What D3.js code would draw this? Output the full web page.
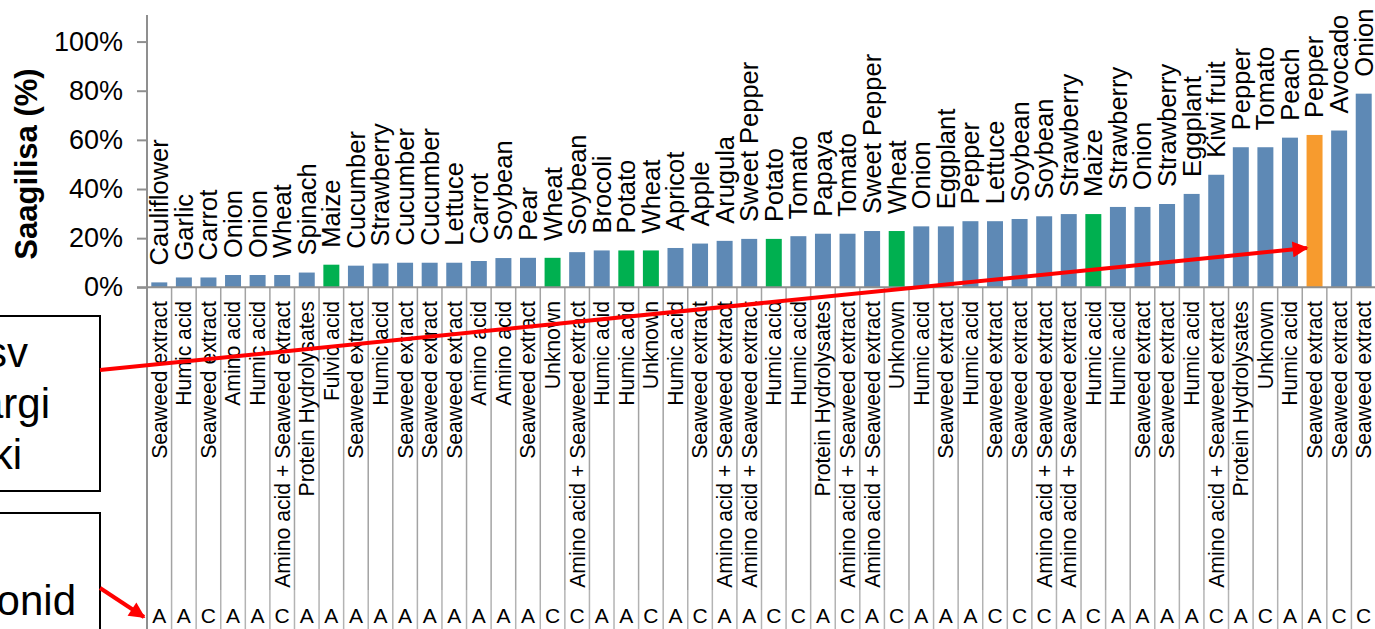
<!DOCTYPE html>
<html>
<head>
<meta charset="utf-8">
<script src="https://cdnjs.cloudflare.com/ajax/libs/d3/7.8.5/d3.min.js"></script>
<style>
  body { margin: 0; background: #fff; }
  svg { display: block; font-family: "Liberation Sans", Arial, sans-serif; }
</style>
</head>
<body>
<svg id="chart" width="1375" height="629"></svg>
<script>
// crop names shown above the bars
var crops = ["Cauliflower", "Garlic", "Carrot", "Onion", "Onion", "Wheat", "Spinach", "Maize", "Cucumber", "Strawberry",
  "Cucumber", "Cucumber", "Lettuce", "Carrot", "Soybean", "Pear", "Wheat", "Soybean", "Brocoli", "Potato",
  "Wheat", "Apricot", "Apple", "Arugula", "Sweet Pepper", "Potato", "Tomato", "Papaya", "Tomato", "Sweet Pepper",
  "Wheat", "Onion", "Eggplant", "Pepper", "Lettuce", "Soybean", "Soybean", "Strawberry", "Maize", "Strawberry",
  "Onion", "Strawberry", "Eggplant", "Kiwi fruit", "Pepper", "Tomato", "Peach", "Pepper", "Avocado", "Onion"];

// biostimulant type (first x-axis level)
var treatments = ["Seaweed extract", "Humic acid", "Seaweed extract", "Amino acid", "Humic acid",
  "Amino acid + Seaweed extract", "Protein Hydrolysates", "Fulvic acid", "Seaweed extract", "Humic acid",
  "Seaweed extract", "Seaweed extract", "Seaweed extract", "Amino acid", "Amino acid",
  "Seaweed extract", "Unknown", "Amino acid + Seaweed extract", "Humic acid", "Humic acid",
  "Unknown", "Humic acid", "Seaweed extract", "Amino acid + Seaweed extract", "Amino acid + Seaweed extract",
  "Humic acid", "Humic acid", "Protein Hydrolysates", "Amino acid + Seaweed extract", "Amino acid + Seaweed extract",
  "Unknown", "Humic acid", "Seaweed extract", "Humic acid", "Seaweed extract",
  "Seaweed extract", "Amino acid + Seaweed extract", "Amino acid + Seaweed extract", "Humic acid", "Humic acid",
  "Seaweed extract", "Seaweed extract", "Humic acid", "Amino acid + Seaweed extract", "Protein Hydrolysates",
  "Unknown", "Humic acid", "Seaweed extract", "Seaweed extract", "Seaweed extract"];

// second x-axis level
var groups = ["A", "A", "C", "A", "A", "C", "A", "A", "A", "A", "A", "A", "A", "A", "A", "A", "C", "C", "A", "A",
  "C", "A", "C", "A", "A", "C", "C", "A", "C", "A", "C", "A", "A", "A", "C", "C", "C", "A", "C", "A",
  "A", "A", "A", "C", "A", "C", "A", "A", "C", "C"];

// yield increase, %
var values = [2, 4, 4, 5, 5, 5, 6, 9.2, 8.8, 9.7, 10, 10, 10, 10.7, 11.9, 12, 12, 14.3, 15, 15,
  15, 16, 17.8, 18.9, 19.7, 19.7, 20.8, 21.8, 21.8, 22.9, 22.9, 24.8, 24.8, 26.9, 26.9, 27.8, 28.9, 29.8, 29.8, 32.7,
  32.7, 33.9, 38, 45.8, 57, 57, 60.9, 62, 63.8, 78.8];

var yTicks = [0, 20, 40, 60, 80, 100];

// highlighted bars (index)
var greenBars = [7, 16, 19, 20, 25, 30, 38];
var orangeBars = [47];

// fragments of the callout boxes on the left
var box1Lines = ["sv", "argi", "ki"];
var box2Lines = ["onid"];

var svg = d3.select("#chart");
var gridColor = "#8f8f8f";

var x = d3.scaleBand()
  .domain(d3.range(values.length))
  .range([147, 1376])
  .paddingInner(0.35)
  .paddingOuter(0.175);

var y = d3.scaleLinear().domain([0, 110]).range([287.3, 17]);

function barColor(i) {
  if (orangeBars.indexOf(i) >= 0) return "#f79b2e";
  if (greenBars.indexOf(i) >= 0) return "#00b050";
  return "#5e89b5";
}

// category dividers below the axis (two levels, small break between)
var step = x.step();
var bounds = d3.range(values.length + 1).map(function(i) { return 147 + i * step; });
var dividers = svg.append("g");
dividers.selectAll("line.top")
  .data(bounds)
  .join("line")
  .attr("class", "top")
  .attr("x1", function(d) { return d; })
  .attr("x2", function(d) { return d; })
  .attr("y1", 287)
  .attr("y2", 590)
  .attr("stroke", "#a3a3a3")
  .attr("stroke-width", 1.5);
dividers.selectAll("line.bot")
  .data(bounds)
  .join("line")
  .attr("class", "bot")
  .attr("x1", function(d) { return d; })
  .attr("x2", function(d) { return d; })
  .attr("y1", 590)
  .attr("y2", 629)
  .attr("stroke", "#b4b4b4")
  .attr("stroke-width", 1.5);

// bars
svg.append("g").selectAll("rect")
  .data(values)
  .join("rect")
  .attr("x", function(d, i) { return x(i); })
  .attr("width", x.bandwidth())
  .attr("y", function(d) { return y(d); })
  .attr("height", function(d) { return y(0) - y(d); })
  .attr("fill", function(d, i) { return barColor(i); });

// y axis
var yAxis = d3.axisLeft(y)
  .tickValues(yTicks)
  .tickSize(10)
  .tickPadding(14)
  .tickFormat(function(d) { return d + "%"; });

var ya = svg.append("g").attr("transform", "translate(147,0)").call(yAxis);
ya.select(".domain").attr("stroke", gridColor).attr("stroke-width", 2).attr("d", "M0,15V629");
ya.selectAll(".tick line").attr("stroke", gridColor).attr("stroke-width", 2);
ya.selectAll(".tick text")
  .attr("font-size", 27)
  .attr("font-family", "Liberation Sans, Arial, sans-serif")
  .attr("fill", "#000");

// x axis line
svg.append("line")
  .attr("x1", 137).attr("x2", 1376)
  .attr("y1", y(0)).attr("y2", y(0))
  .attr("stroke", gridColor).attr("stroke-width", 2);

// y title
svg.append("text")
  .attr("transform", "translate(37,164) rotate(-90)")
  .attr("text-anchor", "middle")
  .attr("font-size", 31)
  .attr("font-weight", "bold")
  .text("Saagilisa (%)");

// crop labels above the bars
svg.append("g").selectAll("text")
  .data(crops)
  .join("text")
  .attr("transform", function(d, i) {
    return "translate(" + (x(i) + x.bandwidth() / 2) + "," + (y(values[i]) - 17) + ") rotate(-90)";
  })
  .attr("dy", "0.35em")
  .attr("font-size", 25.5)
  .text(function(d) { return d; });

// treatment labels
svg.append("g").selectAll("text")
  .data(treatments)
  .join("text")
  .attr("transform", function(d, i) {
    return "translate(" + (x(i) + x.bandwidth() / 2) + ",301) rotate(-90)";
  })
  .attr("text-anchor", "end")
  .attr("dy", "0.35em")
  .attr("font-size", 21.2)
  .text(function(d) { return d; });

// group letters
svg.append("g").selectAll("text")
  .data(groups)
  .join("text")
  .attr("x", function(d, i) { return x(i) + x.bandwidth() / 2; })
  .attr("y", 623)
  .attr("text-anchor", "middle")
  .attr("font-size", 21)
  .text(function(d) { return d; });

// callout boxes
svg.append("rect")
  .attr("x", -20).attr("y", 316).attr("width", 120).attr("height", 175)
  .attr("fill", "#fff").attr("stroke", "#000").attr("stroke-width", 2);
svg.append("rect")
  .attr("x", -20).attr("y", 513).attr("width", 120).attr("height", 140)
  .attr("fill", "#fff").attr("stroke", "#000").attr("stroke-width", 2);

var box1Ends = [28, 50, 22];
svg.append("g").selectAll("text")
  .data(box1Lines)
  .join("text")
  .attr("x", function(d, i) { return box1Ends[i]; })
  .attr("y", function(d, i) { return 367 + i * 51; })
  .attr("text-anchor", "end")
  .attr("font-size", 42)
  .text(function(d) { return d; });

svg.append("text")
  .attr("x", 76).attr("y", 615)
  .attr("text-anchor", "end")
  .attr("font-size", 42)
  .text(box2Lines[0]);

// red arrows
var defs = svg.append("defs");
defs.append("marker")
  .attr("id", "head")
  .attr("viewBox", "0 0 10 10")
  .attr("refX", 9).attr("refY", 5)
  .attr("markerWidth", 4.5).attr("markerHeight", 4)
  .attr("orient", "auto")
  .attr("markerUnits", "strokeWidth")
  .append("path")
  .attr("d", "M0,0L10,5L0,10z")
  .attr("fill", "#ff0000");

svg.append("line")
  .attr("x1", 100).attr("y1", 370)
  .attr("x2", 1307).attr("y2", 248)
  .attr("stroke", "#ff0000").attr("stroke-width", 4)
  .attr("marker-end", "url(#head)");

svg.append("line")
  .attr("x1", 100).attr("y1", 588)
  .attr("x2", 144).attr("y2", 617)
  .attr("stroke", "#ff0000").attr("stroke-width", 4)
  .attr("marker-end", "url(#head)");
</script>
</body>
</html>
